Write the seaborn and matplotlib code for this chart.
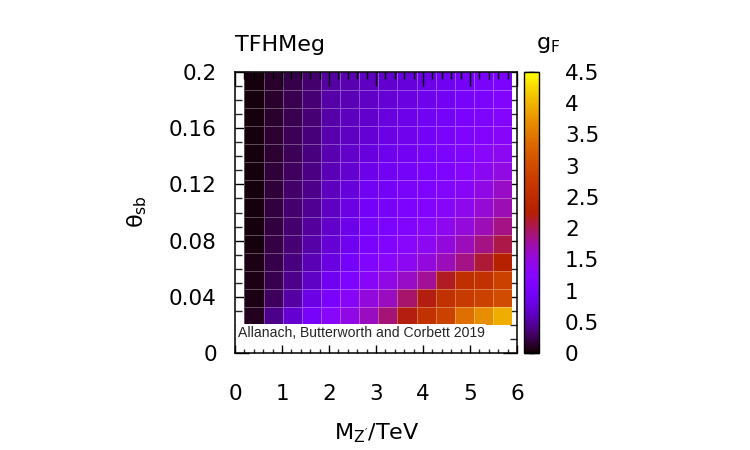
import numpy as np
import matplotlib
matplotlib.use("Agg")
import matplotlib.pyplot as plt
import seaborn as sns

# ---- data ----
title = "TFHMeg"
credit = "Allanach, Butterworth and Corbett 2019"
x_ticks = [0, 1, 2, 3, 4, 5, 6]
y_ticks = [0, 0.04, 0.08, 0.12, 0.16, 0.2]
y_ticklabels = ["0", "0.04", "0.08", "0.12", "0.16", "0.2"]
cb_ticks = [0, 0.5, 1, 1.5, 2, 2.5, 3, 3.5, 4, 4.5]
cb_ticklabels = ["0", "0.5", "1", "1.5", "2", "2.5", "3", "3.5", "4", "4.5"]

# grid extents in data units (cell edges)
mass_min, mass_max = 0.2, 5.9
theta_min, theta_max = 0.02, 0.2

# g_F per cell; rows top (theta=0.2) -> bottom (theta=0.02), cols low -> high mass
gF_rows = [
    [.05, .13, .22, .33, .50, .56, .63, .68, .75, .81, .88, .94, 1.01, 1.07],
    [.05, .13, .23, .34, .51, .58, .65, .72, .79, .85, .92, .99, 1.06, 1.13],
    [.05, .14, .24, .35, .52, .60, .68, .76, .83, .90, .97, 1.04, 1.11, 1.20],
    [.05, .15, .25, .36, .53, .62, .72, .80, .87, .94, 1.01, 1.09, 1.17, 1.28],
    [.05, .15, .26, .38, .55, .66, .76, .85, .92, .99, 1.06, 1.15, 1.25, 1.37],
    [.05, .16, .28, .40, .57, .70, .83, .90, .97, 1.04, 1.12, 1.22, 1.35, 1.47],
    [.05, .17, .30, .42, .60, .75, .90, .95, 1.02, 1.10, 1.20, 1.30, 1.45, 1.60],
    [.05, .18, .32, .45, .62, .80, .95, 1.00, 1.08, 1.17, 1.28, 1.40, 1.55, 1.70],
    [.05, .19, .33, .48, .66, .83, 1.00, 1.07, 1.16, 1.26, 1.38, 1.52, 1.68, 1.85],
    [.05, .20, .35, .52, .72, .88, 1.05, 1.15, 1.25, 1.36, 1.50, 1.66, 1.85, 2.05],
    [.06, .22, .38, .57, .78, .97, 1.15, 1.25, 1.37, 1.50, 1.66, 1.85, 2.10, 2.30],
    [.06, .24, .42, .65, .88, 1.10, 1.30, 1.45, 1.60, 1.80, 2.15, 2.55, 2.60, 2.85],
    [.07, .28, .50, .80, 1.05, 1.30, 1.50, 1.65, 1.95, 2.20, 2.60, 2.75, 2.85, 3.00],
    [.10, .42, .70, 1.00, 1.25, 1.45, 1.65, 1.90, 2.20, 2.60, 2.85, 3.40, 3.70, 3.95],
]

# ---- style ----
sns.set_theme(style="white")
plt.rcParams["font.family"] = ["DejaVu Sans"]
plt.rcParams["mathtext.default"] = "regular"

W, H = 750, 450
fig = plt.figure(figsize=(W / 100, H / 100), dpi=100)

def fx(px):
    return px / W

def fy(py):
    return 1 - py / H

# frame: x 235..517 px, y 72..353 px
ax = fig.add_axes([fx(235), fy(353), fx(517) - fx(235), fy(72) - fy(353)])
ax.set_xlim(0, 6)
ax.set_ylim(0, 0.2)
ax.set_facecolor("white")

# heatmap placed in data coordinates of the frame
hax = ax.inset_axes([mass_min, theta_min, mass_max - mass_min, theta_max - theta_min],
                    transform=ax.transData)
hax.set_zorder(1)
cax = fig.add_axes([fx(523.5), fy(353), fx(538.5) - fx(523.5), fy(72) - fy(353)])

sns.heatmap(np.array(gF_rows), ax=hax, cmap="gnuplot", vmin=0, vmax=4.5,
            cbar_ax=cax, cbar_kws={"ticks": cb_ticks},
            linewidths=0.6, linecolor=(1, 1, 1, 0.3),
            xticklabels=False, yticklabels=False)
hax.axis("off")

# axes ticks
fs = 15.5
ax.set_xticks(x_ticks)
ax.set_xticklabels([str(v) for v in x_ticks], fontsize=fs)
ax.set_yticks(y_ticks)
ax.set_yticklabels(y_ticklabels, fontsize=fs)
ax.set_xticks(np.arange(0, 6.01, 0.2), minor=True)
ax.set_yticks(np.arange(0, 0.2001, 0.01), minor=True)
ax.tick_params(axis="x", which="major", direction="in", length=6, width=1,
               bottom=True, top=False, pad=22, colors="black")
ax.tick_params(axis="x", which="minor", direction="in", length=3, width=1,
               bottom=True, top=False)
ax.tick_params(axis="y", which="major", direction="in", length=10, width=1,
               left=True, right=True, pad=13, colors="black")
ax.tick_params(axis="y", which="minor", direction="in", length=5, width=1,
               left=True, right=True)
for lab in ax.get_xticklabels() + ax.get_yticklabels():
    lab.set_color("black")

top = ax.secondary_xaxis("top")
top.set_zorder(4)
top.set_xticks(x_ticks)
top.set_xticks(np.arange(0, 6.01, 0.2), minor=True)
top.tick_params(which="major", direction="in", length=10, width=1, labeltop=False,
                colors="black")
top.tick_params(which="minor", direction="in", length=5, width=1, colors="black")
top.spines["top"].set_visible(False)

for s in ax.spines.values():
    s.set_color("black")
    s.set_linewidth(1.1)
    s.set_visible(True)
    s.set_zorder(3)

# credit label with white box
ax.text(0.06, 0.0142, credit, fontsize=10.1, family="Liberation Sans",
        ha="left", va="center", zorder=2.8,
        bbox=dict(boxstyle="square,pad=0.12", fc="white", ec="none"))

# colorbar styling
cbar = hax.collections[0].colorbar
cbar.outline.set_edgecolor("black")
cbar.outline.set_linewidth(1.0)
cax.set_yticks(cb_ticks)
cax.set_yticklabels(cb_ticklabels, fontsize=fs)
cax.tick_params(axis="y", direction="in", length=7, width=1, left=True, right=True,
                labelleft=False, labelright=True, pad=19, colors="black")
for lab in cax.get_yticklabels():
    lab.set_color("black")

# titles / labels
fig.text(fx(235), fy(45), title, fontsize=16, ha="left", va="center", color="black")
fig.text(fx(548), fy(45), r"g$_{F}$", fontsize=16, ha="center", va="center", color="black")
fig.text(fx(137), fy(212), r"θ$_{sb}$", fontsize=16, rotation=90,
         ha="center", va="center", color="black")
fig.text(fx(377), fy(433), r"M$_{Z'}$/TeV", fontsize=16, ha="center", va="center",
         color="black")

fig.savefig("out.png", dpi=100, facecolor="white")
